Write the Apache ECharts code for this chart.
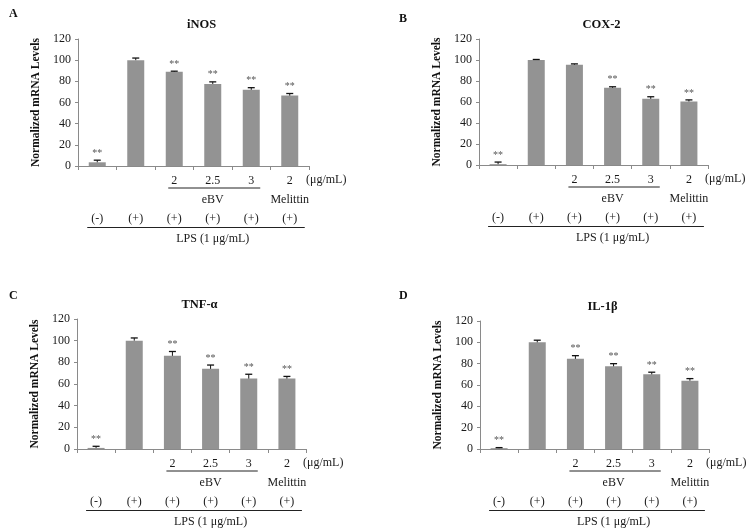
<!DOCTYPE html>
<html>
<head>
<meta charset="utf-8">
<script src="https://cdn.jsdelivr.net/npm/echarts@6/dist/echarts.min.js"></script>
<style>html,body{margin:0;padding:0;background:#fff;}#c{width:750px;height:531px;}</style>
</head>
<body>
<div id="c"></div>
<script>
// ---- data ----
const panelLetters = ['A', 'B', 'C', 'D'];
const panelTitles = ['iNOS', 'COX-2', 'TNF-α', 'IL-1β'];
const categories = ['ctrl', 'lps', 'ebv2', 'ebv25', 'ebv3', 'mel2'];
const doseLabels = ['', '', '2', '2.5', '3', '2'];
const agentLabels = ['', '', '', 'eBV', '', 'Melittin'];
const lpsLabels = ['(-)', '(+)', '(+)', '(+)', '(+)', '(+)'];
const yTicks = [0, 20, 40, 60, 80, 100, 120];

const inosValues = [3.5, 100, 89, 77.5, 72, 66.5];
const inosErrors = [2, 2, 0.6, 2, 2, 2];
const inosSig = [1, 0, 1, 1, 1, 1];

const cox2Values = [0.8, 100, 95.5, 73.5, 63, 60.5];
const cox2Errors = [2, 0.5, 0.8, 1, 2, 1.5];
const cox2Sig = [1, 0, 0, 1, 1, 1];

const tnfValues = [1, 100, 86, 74, 65, 65];
const tnfErrors = [1.5, 2.5, 4, 3.5, 4, 2];
const tnfSig = [1, 0, 1, 1, 1, 1];

const il1bValues = [0.8, 100, 84.5, 77.5, 70, 64];
const il1bErrors = [0.5, 2, 3, 2.5, 2, 2];
const il1bSig = [1, 0, 1, 1, 1, 1];

const panelValues = [inosValues, cox2Values, tnfValues, il1bValues];
const panelErrors = [inosErrors, cox2Errors, tnfErrors, il1bErrors];
const panelSig = [inosSig, cox2Sig, tnfSig, il1bSig];

// ---- layout ----
const FONT = '"Liberation Serif", "Times New Roman", serif';
const grids = [
  { left: 78, top: 39, width: 231, height: 127 },
  { left: 479, top: 39, width: 229, height: 126 },
  { left: 77, top: 319, width: 229, height: 130 },
  { left: 480, top: 321, width: 229, height: 128 }
];
const letterPos = [[4, 3], [394, 8], [4, 285], [394, 285]];
const BAR = '#939393';
const AXIS = '#8a8a8a';
const TXT = '#1a1a1a';

const chart = echarts.init(document.getElementById('c'), null, { renderer: 'canvas' });

const option = {
  backgroundColor: '#fff',
  animation: false,
  title: [],
  grid: grids.map(g => Object.assign({ containLabel: false }, g)),
  xAxis: [],
  yAxis: [],
  series: []
};

grids.forEach((g, k) => {
  option.title.push({
    text: panelLetters[k], left: letterPos[k][0], top: letterPos[k][1],
    textStyle: { fontFamily: FONT, fontSize: 12, fontWeight: 'bold', color: '#111' }
  });
  option.title.push({
    text: panelTitles[k], left: g.left + g.width / 2 + 3, top: g.top - 26, textAlign: 'center',
    textStyle: { fontFamily: FONT, fontSize: 12.5, fontWeight: 'bold', color: '#111' }
  });
  option.xAxis.push({
    type: 'category', gridIndex: k, data: categories, boundaryGap: true,
    axisLine: { lineStyle: { color: AXIS, width: 1 } },
    axisTick: { show: true, interval: 0, length: 4, lineStyle: { color: AXIS } },
    axisLabel: {
      interval: 0, margin: 5, fontFamily: FONT, fontSize: 12, color: TXT, lineHeight: 19,
      formatter: (v, i) => (doseLabels[i] || ' ') + '\n' + (agentLabels[i] || ' ') + '\n' + lpsLabels[i]
    }
  });
  option.yAxis.push({
    type: 'value', gridIndex: k, min: 0, max: 120, interval: 20,
    name: 'Normalized mRNA Levels', nameLocation: 'middle', nameGap: 36,
    nameTextStyle: { fontFamily: FONT, fontSize: 11.5, fontWeight: 'bold', color: '#111' },
    axisLine: { show: true, lineStyle: { color: AXIS, width: 1 } },
    axisTick: { show: true, length: 3, lineStyle: { color: AXIS } },
    splitLine: { show: false },
    axisLabel: { margin: 7, fontFamily: FONT, fontSize: 12, color: TXT,
      formatter: v => yTicks.includes(v) ? String(v) : '' }
  });
  option.series.push({
    type: 'bar', xAxisIndex: k, yAxisIndex: k, data: panelValues[k],
    barWidth: 17, itemStyle: { color: BAR }
  });
  option.series.push({
    type: 'custom', xAxisIndex: k, yAxisIndex: k, z: 5,
    data: panelValues[k].map((v, i) => [i, v, panelErrors[k][i], panelSig[k][i]]),
    renderItem: (params, api) => {
      const x = api.value(0), v = api.value(1), e = api.value(2), s = api.value(3);
      const b = api.coord([x, v]);
      const t = api.coord([x, v + e]);
      const children = [
        { type: 'line', shape: { x1: b[0], y1: b[1], x2: t[0], y2: t[1] }, style: { stroke: '#111', lineWidth: 1 } },
        { type: 'line', shape: { x1: t[0] - 3.5, y1: t[1], x2: t[0] + 3.5, y2: t[1] }, style: { stroke: '#111', lineWidth: 1.3 } }
      ];
      if (s) {
        children.push({ type: 'text', x: t[0], y: t[1] - 2,
          style: { text: '**', fontFamily: FONT, fontSize: 10, fill: '#555', align: 'center', verticalAlign: 'bottom' } });
      }
      return { type: 'group', children };
    }
  });
});

chart.setOption(option);

// annotation lines and spanning texts, placed from the axes' own scales
const graphics = [];
grids.forEach((g, k) => {
  const cx = i => chart.convertToPixel({ xAxisIndex: k }, categories[i]);
  const y0 = chart.convertToPixel({ yAxisIndex: k }, 0);
  const right = g.left + g.width;
  graphics.push({ type: 'text', x: right - 3, y: y0 + 14,
    style: { text: '(μg/mL)', fontFamily: FONT, fontSize: 12, fill: TXT, align: 'left', verticalAlign: 'middle' } });
  graphics.push({ type: 'line', shape: { x1: cx(2) - 6, y1: y0 + 22, x2: cx(4) + 9, y2: y0 + 22 },
    style: { stroke: '#222', lineWidth: 1 } });
  graphics.push({ type: 'line', shape: { x1: cx(0) - 10, y1: y0 + 61.5, x2: cx(5) + 15, y2: y0 + 61.5 },
    style: { stroke: '#222', lineWidth: 1 } });
  graphics.push({ type: 'text', x: cx(3), y: y0 + 73,
    style: { text: 'LPS (1 μg/mL)', fontFamily: FONT, fontSize: 12, fill: TXT, align: 'center', verticalAlign: 'middle' } });
});
chart.setOption({ graphic: graphics });
</script>
</body>
</html>
